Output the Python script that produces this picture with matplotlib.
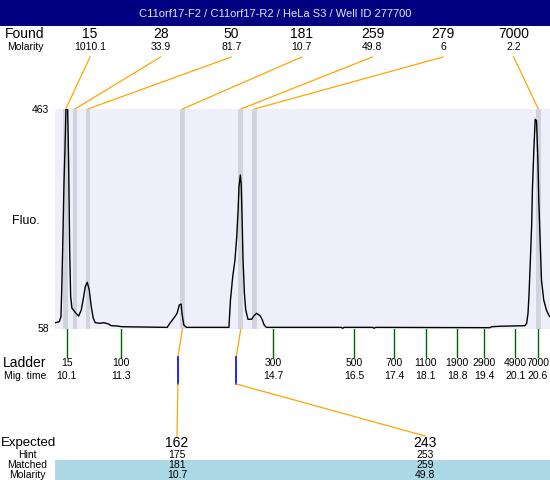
import matplotlib
matplotlib.use("Agg")
import matplotlib.pyplot as plt

plt.rcParams['font.family'] = ['Liberation Sans', 'DejaVu Sans']

# data ____________________________________________________________
title = "C11orf17-F2 / C11orf17-R2 / HeLa S3 / Well ID 277700"

found_size = [15, 28, 50, 181, 259, 279, 7000]
found_molarity = ["1010.1", "33.9", "81.7", "10.7", "49.8", "6", "2.2"]
found_time = [10.08, 10.285, 10.574, 12.68, 13.98, 14.28, 20.61]

ladder_size = [15, 100, 300, 500, 700, 1100, 1900, 2900, 4900, 7000]
ladder_time = [10.1, 11.3, 14.7, 16.5, 17.4, 18.1, 18.8, 19.4, 20.1, 20.6]

expected_size = [162, 243]
hint_size = [175, 253]
matched_size = [181, 259]
matched_molarity = ["10.7", "49.8"]
matched_time = [12.68, 13.98]

# electropherogram trace (migration time s, fluorescence)
trace_time = [9.846, 9.935, 9.973, 9.995, 10.018, 10.040, 10.062, 10.084, 10.122,
              10.145, 10.167, 10.189, 10.218, 10.263, 10.307, 10.367, 10.425, 10.479,
              10.514, 10.559, 10.603, 10.648, 10.692, 10.737, 10.848, 10.924, 11.035,
              11.093, 11.220, 11.332, 12.34, 12.40, 12.51, 12.56, 12.61, 12.65, 12.67,
              12.71, 12.77, 13.715, 13.75, 13.80, 13.85, 13.89, 13.92, 13.94, 13.97,
              13.99, 14.01, 14.03, 14.06, 14.09, 14.14, 14.22, 14.27, 14.33, 14.41,
              14.46, 14.50, 14.55, 16.22, 16.25, 16.28, 16.92, 16.95, 16.98, 19.53,
              19.57, 19.75, 20.31, 20.35, 20.38, 20.40, 20.43, 20.46, 20.48, 20.51,
              20.54, 20.57, 20.60, 20.62, 20.65, 20.68, 20.73, 20.79, 20.84, 20.87]
trace_fluo = [69.6, 71.4, 80.6, 145.1, 234.7, 326.8, 387.5, 463, 463,
              356.8, 203.4, 117.5, 96.1, 91.7, 86.9, 81.9, 93.0, 117.5,
              135.9, 144.0, 129.8, 99.1, 77.7, 69.6, 68.5, 69.6, 67.2,
              64.1, 63.5, 62.2, 61, 68.5, 80.6, 86.9, 102.2, 104.0, 86.9,
              65.4, 61, 61, 111.4, 154.3, 185.0, 227.9, 277.1, 320.0, 341.5,
              323.1, 258.7, 185.0, 123.7, 93.0, 75.9, 75.9, 81.9, 86.9, 82.5,
              74.6, 65.4, 61, 61, 59.3, 61, 61, 59.3, 61, 60.4,
              62.2, 63.0, 64.1, 68.5, 86.9, 117.5, 179.0, 246.3, 320.0, 387.5,
              444.0, 441.5, 369.2, 295.5, 221.8, 148.2, 111.4, 93.0, 83.8, 80.6]

y_min, y_max = 58, 463

# figur ___________________________________________________________
W, H = 550, 480
fig = plt.figure(figsize=(W / 100, H / 100), dpi=100)

# overlay i pixelkoordinater för text och linjer
ov = fig.add_axes([0, 0, 1, 1])
ov.set_xlim(0, W)
ov.set_ylim(H, 0)
ov.axis("off")

# själva diagrammet
top, bot = 109, 329
ax = fig.add_axes([55 / W, (H - bot) / H, (W - 55) / W, (bot - top) / H])
ax.set_xlim(9.84, 20.87)
ax.set_ylim(y_min, y_max)
ax.set_facecolor("#EFEFFC")
for s in ax.spines.values():
    s.set_visible(False)
ax.set_xticks([])
ax.set_yticks([])

for t in found_time:
    ax.axvspan(t - 0.053, t + 0.053, color="#D3D3E0", lw=0)
ax.plot(trace_time, trace_fluo, color="black", lw=1)


def px(t):
    return ax.transData.transform((t, y_min))[0]


# titelrad
ov.add_patch(plt.Rectangle((0, 0), W, 26, color="#000080", lw=0))
ov.text(W / 2, 14, title, color="#E4E4F0", fontsize=8, ha="center", va="center")

# found-rad överst
ov.text(25, 34, "Found", fontsize=10, ha="center", va="center")
ov.text(25, 47, "Molarity", fontsize=7.5, ha="center", va="center")
for i in range(len(found_size)):
    lx = 90 + i * 70.6
    ov.text(lx, 34, str(found_size[i]), fontsize=10, ha="center", va="center")
    ov.text(lx, 47, found_molarity[i], fontsize=7.5, ha="center", va="center")
    ov.plot([lx, px(found_time[i])], [57, top], color="#FFA500", lw=0.9)

# y-axel text
ov.text(49, top + 1, str(y_max), fontsize=7.5, ha="right", va="center")
ov.text(49, bot, str(y_min), fontsize=7.5, ha="right", va="center")
ov.text(26, 221, "Fluo.", fontsize=9, ha="center", va="center")

# ladder
ov.text(25, 363, "Ladder", fontsize=10, ha="center", va="center")
ov.text(25, 376, "Mig. time", fontsize=7.5, ha="center", va="center")
for size, t in zip(ladder_size, ladder_time):
    x = px(t)
    ov.plot([x, x], [bot, 357], color="#006400", lw=1)
    ov.text(x, 363, str(size), fontsize=7.5, ha="center", va="center")
    ov.text(x, 376, str(t), fontsize=7.5, ha="center", va="center")

# expected-tabell
exp_x = [177, 425]
ov.add_patch(plt.Rectangle((55, 460), W - 55, 20, color="#ADD8E6", lw=0))
ov.text(1, 443, "Expected", fontsize=9.5, ha="left", va="center")
ov.text(27, 455, "Hint", fontsize=7.5, ha="center", va="center")
ov.text(27, 465, "Matched", fontsize=7.5, ha="center", va="center")
ov.text(27, 474.5, "Molarity", fontsize=7.5, ha="center", va="center")
for i in range(len(expected_size)):
    ex = exp_x[i]
    ov.text(ex, 443, str(expected_size[i]), fontsize=10, ha="center", va="center")
    ov.text(ex, 455, str(hint_size[i]), fontsize=7.5, ha="center", va="center")
    ov.text(ex, 465, str(matched_size[i]), fontsize=7.5, ha="center", va="center")
    ov.text(ex, 474.5, matched_molarity[i], fontsize=7.5, ha="center", va="center")
    bx = px(matched_time[i])
    mx = bx - 4.5
    ov.plot([bx, mx], [bot, 357], color="#FFA500", lw=0.9)
    ov.plot([mx, mx], [357, 384], color="#0000FF", lw=1.2)
    ov.plot([mx, ex], [384, 436], color="#FFA500", lw=0.9)

fig.savefig("out.png", dpi=100)
